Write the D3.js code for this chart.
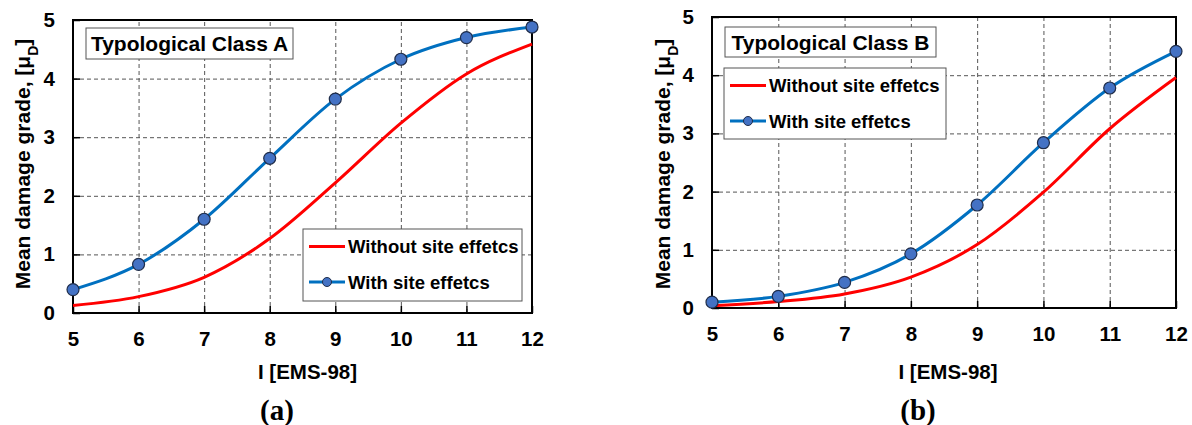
<!DOCTYPE html>
<html>
<head>
<meta charset="utf-8">
<script src="https://cdn.jsdelivr.net/npm/d3@7"></script>
<style>
  body { margin: 0; background: #fff; }
  svg { display: block; }
  text { font-family: "Liberation Sans", Arial, sans-serif; font-weight: bold; fill: #000; }
  .grid line { stroke: #555; stroke-dasharray: 4,3; stroke-width: 1; }
  .grid path { display: none; }
  .axis path { display: none; }
  .axis line { stroke: #000; stroke-width: 1.5; }
  .axis text { font-size: 20.5px; }
</style>
</head>
<body>
<svg id="chart" width="1192" height="425"></svg>
<script>
// intensity (EMS-98) on the x axis
const intensity = [5, 6, 7, 8, 9, 10, 11, 12];
const yTicks = [0, 1, 2, 3, 4, 5];

// mean damage grade
const classAWithout = [0.13, 0.28, 0.61, 1.27, 2.22, 3.24, 4.08, 4.59];
const classAWith    = [0.40, 0.83, 1.60, 2.64, 3.65, 4.33, 4.70, 4.88];
const classBWithout = [0.04, 0.11, 0.24, 0.53, 1.09, 1.99, 3.08, 3.96];
const classBWith    = [0.10, 0.20, 0.44, 0.93, 1.77, 2.84, 3.78, 4.41];

const seriesNames = ["Without site effetcs", "With site effetcs"];

var svg = d3.select("#chart");

/**
 * Draws one panel: grid, frame, curves, markers, title box and legend.
 */
function drawPanel(p) {
    var x = d3.scaleLinear().domain([5, 12]).range([p.left, p.right]);
    var y = d3.scaleLinear().domain([0, 5]).range([p.bottom, p.top]);
    var g = svg.append("g");

    // dashed grid
    g.append("g").attr("class", "grid")
        .attr("transform", "translate(0," + p.bottom + ")")
        .call(d3.axisBottom(x).tickValues(intensity.slice(1, -1))
            .tickSize(-(p.bottom - p.top)).tickFormat(""));
    g.append("g").attr("class", "grid")
        .attr("transform", "translate(" + p.left + ",0)")
        .call(d3.axisLeft(y).tickValues(yTicks.slice(1, -1))
            .tickSize(-(p.right - p.left)).tickFormat(""));

    // axes with inward ticks
    g.append("g").attr("class", "axis")
        .attr("transform", "translate(0," + p.bottom + ")")
        .call(d3.axisBottom(x).tickValues(intensity).tickFormat(d3.format("d"))
            .tickSize(-7).tickPadding(18));
    g.append("g").attr("class", "axis")
        .attr("transform", "translate(" + p.left + ",0)")
        .call(d3.axisLeft(y).tickValues(yTicks).tickFormat(d3.format("d"))
            .tickSize(-7).tickPadding(18));

    // frame
    g.append("rect")
        .attr("x", p.left).attr("y", p.top)
        .attr("width", p.right - p.left).attr("height", p.bottom - p.top)
        .attr("fill", "none").attr("stroke", "#000").attr("stroke-width", 2);

    var line = d3.line()
        .x(function(d, i) { return x(intensity[i]); })
        .y(function(d) { return y(d); })
        .curve(d3.curveMonotoneX);

    g.append("path").datum(p.without)
        .attr("d", line).attr("fill", "none")
        .attr("stroke", "#ff0000").attr("stroke-width", 3);
    g.append("path").datum(p.with)
        .attr("d", line).attr("fill", "none")
        .attr("stroke", "#0070c0").attr("stroke-width", 3);
    g.selectAll("circle.pt").data(p.with).enter().append("circle")
        .attr("class", "pt")
        .attr("cx", function(d, i) { return x(intensity[i]); })
        .attr("cy", function(d) { return y(d); })
        .attr("r", 6)
        .attr("fill", "#4472c4").attr("stroke", "#1f2d4a").attr("stroke-width", 1.2);

    // class title box
    g.append("rect")
        .attr("x", p.titleBox[0]).attr("y", p.titleBox[1])
        .attr("width", p.titleBox[2]).attr("height", p.titleBox[3])
        .attr("fill", "#fff").attr("stroke", "#555").attr("stroke-width", 1);
    g.append("text")
        .attr("x", p.titleBox[0] + p.titleBox[2] / 2)
        .attr("y", p.titleBox[1] + p.titleBox[3] / 2)
        .attr("dy", "0.36em").attr("text-anchor", "middle")
        .style("font-size", "21px").text(p.title);

    // legend
    var lg = p.legend;
    g.append("rect")
        .attr("x", lg[0]).attr("y", lg[1]).attr("width", lg[2]).attr("height", lg[3])
        .attr("fill", "#fff").attr("stroke", "#555").attr("stroke-width", 1);
    var colors = ["#ff0000", "#0070c0"];
    seriesNames.forEach(function(name, i) {
        var ly = lg[1] + 17.5 + i * 35.5;
        var lx = lg[0] + 6;
        g.append("line")
            .attr("x1", lx).attr("x2", lx + 36).attr("y1", ly).attr("y2", ly)
            .attr("stroke", colors[i]).attr("stroke-width", 3);
        if (i === 1) {
            g.append("circle").attr("cx", lx + 18).attr("cy", ly).attr("r", 4.5)
                .attr("fill", "#4472c4").attr("stroke", "#1f2d4a").attr("stroke-width", 1);
        }
        g.append("text").attr("x", lx + 39).attr("y", ly).attr("dy", "0.36em")
            .style("font-size", "18.5px").text(name);
    });

    // axis titles
    g.append("text")
        .attr("x", (p.left + p.right) / 2 + p.xLabelShift).attr("y", 372)
        .attr("dy", "0.36em").attr("text-anchor", "middle")
        .style("font-size", "20.5px").text("I [EMS-98]");
    var yt = g.append("text")
        .attr("transform", "translate(" + p.yTitleX + ",164) rotate(-90)")
        .attr("dy", "0.36em").attr("text-anchor", "middle")
        .style("font-size", "21px");
    yt.append("tspan").text("Mean damage grade, [\u03bc");
    yt.append("tspan").attr("baseline-shift", "sub").style("font-size", "14px").text("D");
    yt.append("tspan").text("]");

    // panel caption
    g.append("text")
        .attr("x", p.captionX).attr("y", 410)
        .attr("dy", "0.35em").attr("text-anchor", "middle")
        .style("font-family", "'Liberation Serif', 'Times New Roman', serif")
        .style("font-size", "29px").text(p.caption);
}

drawPanel({
    left: 73, right: 532, top: 20, bottom: 313,
    without: classAWithout, with: classAWith,
    title: "Typological Class A", titleBox: [86, 28, 207, 31],
    legend: [303, 229, 219, 72],
    xLabelShift: 5, yTitleX: 22, captionX: 277, caption: "(a)"
});
drawPanel({
    left: 712, right: 1176, top: 17, bottom: 308,
    without: classBWithout, with: classBWith,
    title: "Typological Class B", titleBox: [725, 27, 211, 30],
    legend: [724, 68, 222, 71],
    xLabelShift: 4, yTitleX: 662, captionX: 918, caption: "(b)"
});
</script>
</body>
</html>
